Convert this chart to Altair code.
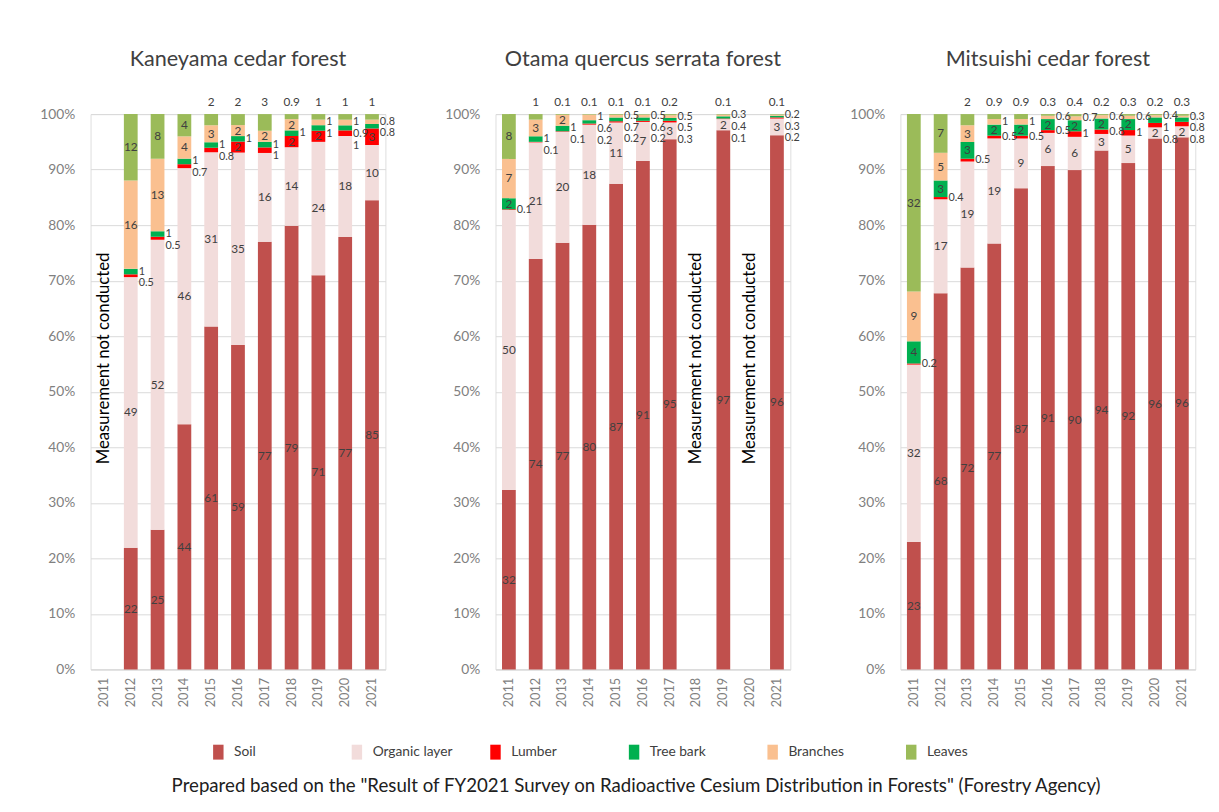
import altair as alt
import pandas as pd

years = ["2011", "2012", "2013", "2014", "2015", "2016", "2017", "2018", "2019", "2020", "2021"]
parts = ["Soil", "Organic layer", "Lumber", "Tree bark", "Branches", "Leaves"]
part_colors = ["#C0504D", "#F2DCDB", "#FF0000", "#00B050", "#FAC090", "#9BBB59"]
forests = ["Kaneyama cedar forest", "Otama quercus serrata forest", "Mitsuishi cedar forest"]

kaneyama_soil = [None, 22, 25, 44, 61, 59, 77, 79, 71, 77, 85]
kaneyama_organic = [None, 49, 52, 46, 31, 35, 16, 14, 24, 18, 10]
kaneyama_lumber = [None, 0.5, 0.5, 0.7, 0.8, 2, 1, 2, 2, 1, 3]
kaneyama_bark = [None, 1, 1, 1, 1, 1, 1, 1, 1, 0.9, 0.8]
kaneyama_branches = [None, 16, 13, 4, 3, 2, 2, 2, 1, 1, 0.8]
kaneyama_leaves = [None, 12, 8, 4, 2, 2, 3, 0.9, 1, 1, 1]

otama_soil = [32, 74, 77, 80, 87, 91, 95, None, 97, None, 96]
otama_organic = [50, 21, 20, 18, 11, 7, 3, None, 2, None, 3]
otama_lumber = [0.1, 0.1, 0.1, 0.2, 0.2, 0.2, 0.3, None, 0.1, None, 0.2]
otama_bark = [2, 1, 1, 0.6, 0.7, 0.6, 0.5, None, 0.4, None, 0.3]
otama_branches = [7, 3, 2, 1, 0.5, 0.5, 0.5, None, 0.3, None, 0.2]
otama_leaves = [8, 1, 0.1, 0.1, 0.1, 0.1, 0.2, None, 0.1, None, 0.1]

mitsuishi_soil = [23, 68, 72, 77, 87, 91, 90, 94, 92, 96, 96]
mitsuishi_organic = [32, 17, 19, 19, 9, 6, 6, 3, 5, 2, 2]
mitsuishi_lumber = [0.2, 0.4, 0.5, 0.5, 0.5, 0.5, 1, 0.8, 1, 0.8, 0.8]
mitsuishi_bark = [4, 3, 3, 2, 2, 2, 2, 2, 2, 1, 0.8]
mitsuishi_branches = [9, 5, 3, 1, 1, 0.6, 0.7, 0.6, 0.6, 0.4, 0.3]
mitsuishi_leaves = [32, 7, 2, 0.9, 0.9, 0.3, 0.4, 0.2, 0.3, 0.2, 0.3]

series = {
    forests[0]: [kaneyama_soil, kaneyama_organic, kaneyama_lumber, kaneyama_bark, kaneyama_branches, kaneyama_leaves],
    forests[1]: [otama_soil, otama_organic, otama_lumber, otama_bark, otama_branches, otama_leaves],
    forests[2]: [mitsuishi_soil, mitsuishi_organic, mitsuishi_lumber, mitsuishi_bark, mitsuishi_branches, mitsuishi_leaves],
}

not_measured = {forests[0]: ["2011"], forests[1]: ["2018", "2020"], forests[2]: []}

FONT = "Lato"
TXT = "#404040"
AX = "#808080"


def fmt(v):
    return str(int(v)) if float(v).is_integer() else str(v)


rows, labels = [], []
for f in forests:
    for yi, yr in enumerate(years):
        vals = [series[f][pi][yi] for pi in range(len(parts))]
        if vals[0] is None:
            continue
        total = sum(vals)
        cum = 0.0
        segs = []
        for pi, p in enumerate(parts):
            v = vals[pi]
            rows.append({"forest": f, "year": yr, "part": p, "order": pi, "value": v})
            lo, hi = cum / total, (cum + v) / total
            cum += v
            segs.append((p, v, lo, hi))
        side = []
        for p, v, lo, hi in segs:
            if p == "Leaves" and v < 4:
                labels.append({"forest": f, "year": yr, "kind": "above", "ly": hi, "txt": fmt(v)})
            elif v >= 2:
                labels.append({"forest": f, "year": yr, "kind": "inside", "ly": (lo + hi) / 2, "txt": fmt(v)})
            else:
                side.append((p, v, (lo + hi) / 2))
        prev = None
        for p, v, mid in reversed(side):
            y = mid if prev is None else min(mid, prev - 0.021)
            prev = y
            labels.append({"forest": f, "year": yr, "kind": "side", "ly": y, "txt": fmt(v)})

df = pd.DataFrame(rows)
lab = pd.DataFrame(labels)
miss = pd.DataFrame([{"forest": f, "year": y, "txt": "Measurement not conducted"}
                     for f in forests for y in not_measured[f]])


def panel(f):
    x = alt.X("year:O", scale=alt.Scale(domain=years, paddingInner=0.48),
              axis=alt.Axis(title=None, labelAngle=270, ticks=False, domainColor="#D9D9D9",
                            labelColor=AX, labelFontSize=13, labelFont=FONT, labelPadding=8))
    bars = alt.Chart(df[df.forest == f]).mark_bar(size=14).encode(
        x=x,
        y=alt.Y("value:Q", stack="normalize", scale=alt.Scale(domain=[0, 1], nice=False),
                axis=alt.Axis(title=None, format=".0%", values=[i / 10 for i in range(11)],
                              grid=True, gridColor="#D9D9D9", domain=False, ticks=False,
                              labelColor=AX, labelFontSize=14, labelFont=FONT, labelPadding=16)),
        color=alt.Color("part:N", scale=alt.Scale(domain=parts, range=part_colors),
                        legend=alt.Legend(title=None, orient="none", direction="horizontal",
                                          legendX=122, legendY=641, columns=6,
                                          symbolType="M-0.7,-1L0.7,-1L0.7,1L-0.7,1Z", symbolSize=230,
                                          symbolStrokeWidth=0, labelFontSize=14, labelFont=FONT,
                                          labelColor=TXT, columnPadding=35, gridAlign="all",
                                          labelOffset=8)),
        order=alt.Order("order:Q"),
    )
    ld = lab[lab.forest == f]
    inside = alt.Chart(ld[ld.kind == "inside"]).mark_text(font=FONT, fontSize=12, color=TXT).encode(
        x=x, y=alt.Y("ly:Q"), text="txt:N")
    above = alt.Chart(ld[ld.kind == "above"]).mark_text(font=FONT, fontSize=12, color=TXT,
                                                        baseline="bottom", dy=-5).encode(
        x=x, y=alt.Y("ly:Q"), text="txt:N")
    side = alt.Chart(ld[ld.kind == "side"]).mark_text(font=FONT, fontSize=11, color=TXT,
                                                      align="left", dx=8).encode(
        x=x, y=alt.Y("ly:Q"), text="txt:N")
    layers = [bars, inside, above, side]
    md = miss[miss.forest == f]
    if len(md):
        layers.append(alt.Chart(md).mark_text(font=FONT, fontSize=17, color="#000000", angle=270).encode(
            x=x, y=alt.datum(0.56), text="txt:N"))
    return alt.layer(*layers).properties(
        width=300, height=565,
        title=alt.TitleParams(f, fontSize=22, font=FONT, color=TXT, fontWeight="normal",
                              offset=26, anchor="middle"))


chart = alt.hconcat(*[panel(f) for f in forests], spacing=48).properties(
    padding={"left": 31, "top": 33, "right": 5, "bottom": 0},
    title=alt.TitleParams(
        'Prepared based on the "Result of FY2021 Survey on Radioactive Cesium Distribution in Forests" (Forestry Agency)',
        orient="bottom", anchor="middle", fontSize=19, font=FONT, color="#202020",
        fontWeight="normal", offset=18, dx=14),
).configure_view(stroke=None).configure(background="white")

chart.save("out.html", embed_options={"renderer": "svg", "actions": False})
